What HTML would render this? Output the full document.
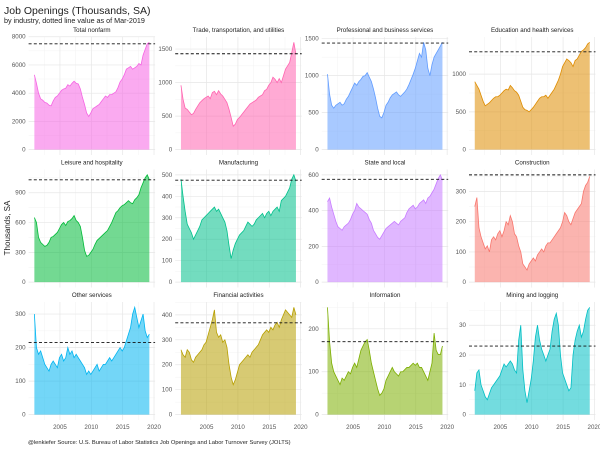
<!DOCTYPE html>
<html><head><meta charset="utf-8">
<style>
html,body{margin:0;padding:0;background:#fff;}
svg{display:block;font-family:"Liberation Sans",Arial,sans-serif;}
</style></head>
<body>
<svg id="chart" width="600" height="450" viewBox="0 0 600 450" xmlns="http://www.w3.org/2000/svg">
<text x="4" y="14" font-size="10.5" fill="#222">Job Openings (Thousands, SA)</text>
<text x="4" y="23" font-size="7.2" fill="#222">by industry, dotted line value as of Mar-2019</text>
<text transform="translate(10,228) rotate(-90)" text-anchor="middle" font-size="8" fill="#222">Thousands, SA</text>
<text x="28" y="444" font-size="5.8" fill="#222">@lenkiefer Source: U.S. Bureau of Labor Statistics Job Openings and Labor Turnover Survey (JOLTS)</text>
<g id="panels"></g>
</svg>
<script>
const panelNames = ["Total nonfarm","Trade, transportation, and utilities","Professional and business services","Education and health services","Leisure and hospitality","Manufacturing","State and local","Construction","Other services","Financial activities","Information","Mining and logging"];
const panelColors = ["#F564E3","#FF64B0","#619CFF","#DE8C00","#00BA38","#00C08B","#C77CFF","#F8766D","#00B4F0","#B79F00","#7CAE00","#00BFC4"];
const latestValues = [7500,1430,1440,1295,1030,475,575,355,215,368,170,23];
const yTicks = [[0,2000,4000,6000,8000],[0,500,1000,1500],[0,500,1000,1500],[0,500,1000],[0,300,600,900],[0,100,200,300,400,500],[0,200,400,600],[0,100,200,300],[0,100,200,300],[0,100,200,300,400],[0,100,200],[0,10,20,30]];
const xTicks = [2005,2010,2015,2020];
const startYear = 2000.92;
const stepYears = 1/3;
const sTotal = [5300,4700,4000,3600,3500,3350,3300,3150,3100,3450,3700,3800,4000,4200,4300,4350,4600,4500,4700,4850,4700,4650,4300,3700,3200,2600,2350,2600,2900,3000,3100,3200,3400,3600,3800,3700,3900,3900,4000,4100,4400,4800,5000,5300,5700,5800,5900,5700,5800,5900,6100,6000,6700,7100,7500,7600];
const sTrade = [960,750,620,600,560,520,540,600,650,700,730,760,780,800,760,850,870,820,880,830,800,750,700,600,480,350,380,450,480,520,560,600,640,680,700,720,740,780,800,820,880,900,960,1000,1080,1050,1000,1060,1000,1100,1200,1250,1300,1450,1600,1420];
const sProf = [1020,750,600,560,600,620,640,600,620,680,720,780,840,900,870,920,950,990,1000,1040,980,920,820,700,560,450,430,500,600,640,700,740,760,780,740,720,750,780,820,880,950,1020,1100,1200,1300,1250,1450,1350,1100,1000,1150,1250,1300,1350,1400,1450];
const sEdu = [900,850,800,720,640,580,600,620,650,680,700,700,720,750,780,800,790,850,820,780,760,720,640,560,530,520,500,530,560,600,640,680,700,700,720,680,720,760,800,860,920,1000,1100,1150,1200,1180,1150,1100,1180,1200,1250,1300,1320,1350,1400,1420];
const sLeisure = [650,600,450,400,380,360,370,400,450,460,480,500,540,580,600,570,610,620,640,670,620,600,560,450,320,260,270,300,330,380,420,440,460,480,500,520,560,600,650,700,720,750,770,780,800,820,800,790,830,850,880,950,1000,1050,1080,1030];
const sManuf = [480,400,330,270,250,230,200,220,240,260,290,300,310,320,330,340,350,330,340,320,300,280,240,170,110,150,180,200,220,230,240,260,280,270,260,270,290,300,310,320,300,320,330,310,330,340,350,330,380,390,400,420,440,480,500,470];
const sState = [450,470,420,380,340,310,300,290,310,320,330,350,380,400,440,420,410,400,390,380,350,330,290,270,250,240,260,280,300,310,320,330,340,330,320,340,350,360,390,410,420,430,410,420,440,450,460,440,470,480,500,520,550,580,600,570];
const sConstr = [250,280,180,150,130,110,120,100,140,150,140,160,170,150,170,200,190,220,200,160,150,120,100,60,50,40,60,70,80,70,90,100,110,100,120,130,130,140,150,160,170,180,200,230,220,200,190,210,230,240,250,260,300,320,330,350];
const sOther = [300,200,180,190,170,150,140,130,150,160,150,140,170,180,160,170,200,180,190,170,180,170,160,150,140,120,130,120,130,140,150,130,140,150,150,160,170,160,170,180,190,200,190,200,220,240,260,300,320,290,260,280,300,250,230,240];
const sFin = [260,240,230,260,250,220,210,230,240,250,260,280,290,320,350,380,420,330,310,320,290,300,270,200,150,120,140,170,200,210,220,230,240,230,250,260,270,280,300,320,330,340,330,350,340,360,370,350,380,400,420,410,400,390,430,400];
const sInfo = [250,170,120,100,90,80,70,85,80,90,100,95,110,120,110,130,150,160,170,175,150,120,100,80,60,45,50,60,80,90,100,110,100,95,90,100,100,105,110,110,115,120,115,120,110,110,100,90,80,100,120,190,150,140,140,160];
const sMining = [8,14,15,10,8,6,5,7,9,10,11,12,13,15,17,16,17,18,17,15,14,25,30,15,8,4,8,12,18,26,30,25,22,20,18,20,22,28,32,34,30,20,14,12,10,8,9,20,25,28,30,26,28,32,35,36];
const allSeries = [sTotal,sTrade,sProf,sEdu,sLeisure,sManuf,sState,sConstr,sOther,sFin,sInfo,sMining];

const NS = "http://www.w3.org/2000/svg";
const root = document.getElementById("panels");
function mk(tag, attrs, parent){const e=document.createElementNS(NS,tag);for(const k in attrs)e.setAttribute(k,attrs[k]);parent.appendChild(e);return e;}
const colLeft = [28.6,175.2,321.7,469];
const rowTop = [37,169.5,302];
const W = 126.5, H = 118;
const x0 = 2000.0, x1 = 2020.17;

for(let p=0;p<12;p++){
  const col=p%4,row=Math.floor(p/4);
  const L=colLeft[col],T=rowTop[row];
  const data=allSeries[p];
  const n=data.length;
  const yearsEnd=startYear+(n-1)*stepYears;
  const xs=v=>L+(v-x0)/(x1-x0)*W;
  const mx=Math.max(Math.max(...data),latestValues[p]);
  const lo=-0.05*mx,hi=1.05*mx;
  const ys=v=>T+H-(v-lo)/(hi-lo)*H;
  const g=mk("g",{},root);
  
  
  // minor grids
  const ticks=yTicks[p];
  const stepT=ticks[1]-ticks[0];
  for(let v=stepT/2; v<hi; v+=stepT){ if(v<lo) continue; const l=mk("line",{x1:L,x2:L+W,y1:ys(v),y2:ys(v),stroke:"#f3f3f3","stroke-width":0.5},g);   }
  for(let v=2002.5; v<x1; v+=5){ const l=mk("line",{x1:xs(v),x2:xs(v),y1:T,y2:T+H,stroke:"#f3f3f3","stroke-width":0.5},g);   }
  ticks.forEach(v=>{
    const l=mk("line",{x1:L,x2:L+W,y1:ys(v),y2:ys(v),stroke:"#e6e6e6","stroke-width":0.7},g);
    
    
    const t=mk("text",{x:L-3,y:ys(v)+2,"text-anchor":"end","font-size":"6.2",fill:"#555"},g);
    t.textContent=v;
    
    
  });
  xTicks.forEach(v=>{
    const l=mk("line",{x1:xs(v),x2:xs(v),y1:T,y2:T+H,stroke:"#e6e6e6","stroke-width":0.7},g);
    
    
    if(row===2){
      const t=mk("text",{x:xs(v),y:T+H+9,"text-anchor":"middle","font-size":"6.2",fill:"#555"},g);
      t.textContent=v;
      
      
    }
  });
  const tt=mk("text",{x:L+W/2,y:T-5,"text-anchor":"middle","font-size":"6.2",fill:"#222"},g);
  tt.textContent=panelNames[p];
  
  
  let pts=data.map((v,i)=>xs(startYear+i*stepYears).toFixed(2)+","+ys(v).toFixed(2));
  const area=mk("path",{d:"M"+xs(startYear).toFixed(2)+","+ys(0).toFixed(2)+" L"+pts.join(" L")+" L"+xs(yearsEnd).toFixed(2)+","+ys(0).toFixed(2)+" Z",fill:panelColors[p],"fill-opacity":0.55,stroke:"none"},g);
  
  
  const line=mk("path",{d:"M"+pts.join(" L"),fill:"none",stroke:panelColors[p],"stroke-width":0.8},g);
  
  
  const dl=mk("line",{x1:L,x2:L+W,y1:ys(latestValues[p]),y2:ys(latestValues[p]),stroke:"#111","stroke-width":0.9,"stroke-dasharray":"3,2.2"},g);
  
  
}
</script>
</body></html>
